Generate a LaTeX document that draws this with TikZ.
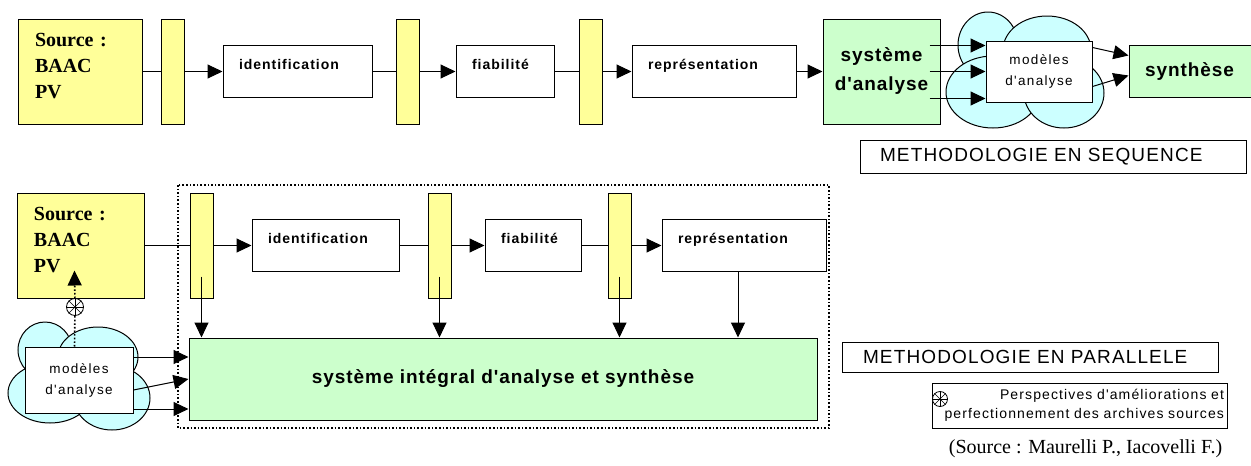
\documentclass[tikz,border=0pt]{standalone}
\usepackage{fontspec}
\setmainfont{Liberation Serif}
\setsansfont{Liberation Sans}
\newfontfamily\procfont[LetterSpace=7]{Liberation Sans}
\newfontfamily\sysfont[LetterSpace=5,Ligatures=TeXOff]{Liberation Sans}
\newfontfamily\modfont[LetterSpace=10,Ligatures=TeXOff]{Liberation Sans}
\newfontfamily\methfont[LetterSpace=6]{Liberation Sans}
\newfontfamily\legfont[LetterSpace=8,Ligatures=TeXOff]{Liberation Sans}
\usetikzlibrary{positioning,arrows.meta}
\definecolor{srcyellow}{RGB}{255,255,153}
\definecolor{sysgreen}{RGB}{204,255,204}
\definecolor{cloudblue}{RGB}{204,255,255}

\begin{document}
\begin{tikzpicture}[x=1pt,y=-1pt,line width=1pt,>={Triangle[length=15pt,width=14pt]},
	srcbox/.style={draw,fill=srcyellow,minimum height=105pt,inner xsep=17pt,align=left,
		font=\bfseries\fontsize{20}{26}\selectfont,text height=14pt,text depth=64pt},
	barbox/.style={draw,fill=srcyellow,minimum width=23pt,minimum height=105pt,inner sep=0pt},
	procbox/.style={draw,fill=white,minimum height=52pt,inner xsep=16pt,align=left,
		font=\procfont\bfseries\fontsize{14}{16}\selectfont,text height=10pt,text depth=14pt},
	sysbox/.style={draw,fill=sysgreen,align=center,font=\sysfont\bfseries\fontsize{19}{29}\selectfont},
	modbox/.style={draw,fill=white,align=center,font=\modfont\fontsize{13.5}{21}\selectfont},
	methbox/.style={draw,fill=white,inner xsep=20pt,align=left,font=\methfont\fontsize{19}{22}\selectfont},
	legbox/.style={draw,fill=white,align=right,text width=289pt,inner xsep=3pt,minimum height=45pt,
		font=\legfont\fontsize{14}{19}\selectfont},
	cloudpart/.style={draw,fill=cloudblue},
	astcircle/.style={circle,draw,fill=white,inner sep=0pt,line width=0.8pt}]
	\useasboundingbox (0,0) rectangle (1251,466);

	% parallel frame and clouds
	\draw[dotted,line width=1.6pt] (178,185) rectangle (829,428);
	\foreach \cx/\cy/\rx/\ry in {988/45/30/33,1047/50/44/34,993/92/47/36,1064/93/40/35,
			45/350/27/28,98/357/40/30,50/393/42/30,112/398/38/32}
		\draw[cloudpart] (\cx,\cy) ellipse ({\rx pt} and {\ry pt});

	% sequence
	\node[srcbox,text width=90pt] (src1) at (80,71.5) {Source :\\BAAC\\PV};
	\node[barbox] (bar1a) [right=18pt of src1] {};
	\node[procbox,text width=117pt] (id1) [right=38pt of bar1a] {identification};
	\node[barbox] (bar2a) [right=23pt of id1] {};
	\node[procbox,text width=66pt] (fia1) [right=36pt of bar2a] {fiabilité};
	\node[barbox] (bar3a) [right=24pt of fia1] {};
	\node[procbox,text width=132pt] (rep1) [right=29pt of bar3a] {représentation};
	\node[sysbox,minimum width=117pt,minimum height=105pt] (sys) [right=26pt of rep1] {système\\d'analyse};
	\node[modbox,minimum width=106pt,minimum height=61pt] (mod1) [right=45pt of sys] {modèles\\d'analyse};
	\node[sysbox,minimum height=52pt,text width=95pt,inner xsep=16pt,align=left] (syn) [right=36pt of mod1] {synthèse};
	\node[methbox,text width=346pt,minimum height=33pt] (seqtitle) at (1053,156.5) {METHODOLOGIE EN SEQUENCE};

	\draw (src1) -- (bar1a);
	\draw[->] (bar1a) -- (id1);
	\draw (id1) -- (bar2a);
	\draw[->] (bar2a) -- (fia1);
	\draw (fia1) -- (bar3a);
	\draw[->] (bar3a) -- (rep1);
	\draw[->] (rep1) -- (sys);
	\foreach \dy in {-26,0,27}
		\draw[->] ([shift={(-11,\dy)}]sys.east) -- ([shift={(0,\dy)}]mod1.west);
	\draw[->] ([shift={(0,-24)}]mod1.east) -- ([shift={(0,-16)}]syn.west);
	\draw[->] ([shift={(0,15)}]mod1.east) -- ([shift={(0,4)}]syn.west);

	% parallel
	\node[srcbox,text width=93pt] (src2) at (80.5,245.5) {Source :\\BAAC\\PV};
	\node[barbox] (bar1b) [right=45pt of src2] {};
	\node[procbox,text width=115pt] (id2) [right=38pt of bar1b] {identification};
	\node[barbox] (bar2b) [right=28pt of id2] {};
	\node[procbox,text width=64pt] (fia2) [right=33pt of bar2b] {fiabilité};
	\node[barbox] (bar3b) [right=26pt of fia2] {};
	\node[procbox,text width=132pt] (rep2) [right=30pt of bar3b] {représentation};
	\node[sysbox,minimum width=628pt,minimum height=82pt] (big) at (503,379) {système intégral d'analyse et synthèse};
	\node[modbox,minimum width=108pt,minimum height=66pt] (mod2) at (79,380) {modèles\\d'analyse};
	\node[astcircle,minimum size=17pt] (astmid) at (75,307) {};
	\node[methbox,text width=334pt,inner xsep=21pt,minimum height=30pt] (partitle) at (1030,357) {METHODOLOGIE EN PARALLELE};
	\node[legbox] (legend) at (1079.5,405.5) {Perspectives d'améliorations et\\perfectionnement des archives sources};
	\node[astcircle,minimum size=15pt] (astleg) at (940,399) {};
	\node[anchor=base east,font=\fontsize{20}{24}\selectfont] (caption) at (1226,453) {(Source : Maurelli P., Iacovelli F.)};

	\draw (src2) -- (bar1b);
	\draw[->] (bar1b) -- (id2);
	\draw (id2) -- (bar2b);
	\draw[->] (bar2b) -- (fia2);
	\draw (fia2) -- (bar3b);
	\draw[->] (bar3b) -- (rep2);
	\foreach \b in {bar1b,bar2b,bar3b}
		\draw[->] ([shift={(0,-22)}]\b.south) -- (\b.south |- big.north);
	\coordinate (repdrop) at ([shift={(-6,0)}]rep2.south);
	\draw[->] (repdrop) -- (repdrop |- big.north);
	\draw[->] ([shift={(0,-23)}]mod2.east) -- ([shift={(0,-22)}]big.west);
	\draw[->] ([shift={(0,10)}]mod2.east) -- (big.west);
	\draw[->] ([shift={(0,29)}]mod2.east) -- ([shift={(0,30)}]big.west);
	\draw[dotted,line width=1.6pt] ([shift={(50,0)}]mod2.north west) -- (astmid);
	\draw[->,dotted,line width=1.6pt] (astmid) -- ([shift={(58,-28)}]src2.south west);
	\foreach \n in {astmid,astleg}
		\foreach \a in {0,45,...,315}
			\draw[line width=0.6pt] (\n.center) -- (\n.\a);
\end{tikzpicture}
\end{document}
